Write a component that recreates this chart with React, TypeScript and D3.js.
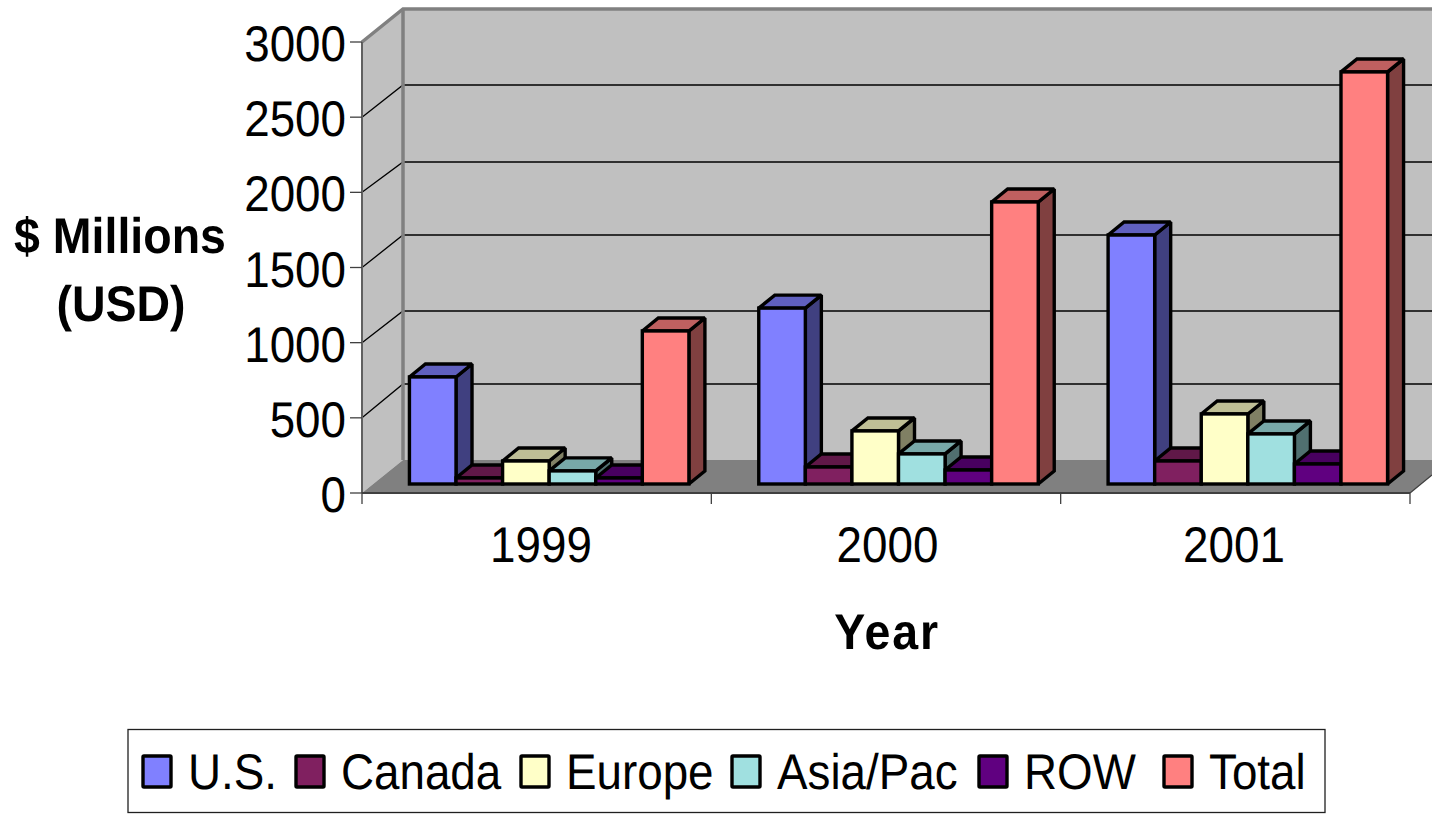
import React from "react";
import * as d3 from "d3";

const years = ["1999", "2000", "2001"];
const seriesNames = ["U.S.", "Canada", "Europe", "Asia/Pac", "ROW", "Total"];
const usValues = [712, 1170, 1656];
const canadaValues = [40, 113, 153];
const europeValues = [153, 353, 466];
const asiaValues = [87, 200, 333];
const rowValues = [40, 93, 133];
const totalValues = [1018, 1876, 2741];
const seriesValues = [usValues, canadaValues, europeValues, asiaValues, rowValues, totalValues];
const seriesColors = ["#8080ff", "#802060", "#ffffc8", "#a0e0e0", "#600080", "#ff8080"];
const yTicks = [0, 500, 1000, 1500, 2000, 2500, 3000];
const backWallY = [460, 384, 311, 235, 162, 85, 9];
const legendSwatchX = [143, 296, 521, 732, 979, 1164];

const W = 1432, H = 814;
const FONT = "'Liberation Sans', Arial, sans-serif";
const x0 = 362, x1 = 1410, yFront = 493, yFrontTop = 42;
const depthX = 41;
const barDepthX = 16, barDepthY = 13;
const barShiftX = 12.5, barShiftY = 9;
const STRETCH_X = 0.915;

const yScale = d3.scaleLinear().domain([0, 3000]).range([0, yFrontTop - yFront]);
const yBack = d3.scaleLinear().domain(yTicks).range(backWallY);
const xBand = d3.scaleBand().domain(years).range([x0, x1]);
const xLabel = d3.scalePoint().domain(years).range([541, 1234]);
const barW = xBand.bandwidth() / 7.5;

const pts = (p: number[][]) => p.map((q) => q.join(",")).join(" ");

function T({ x, y, anchor = "start", bold = false, size = 50, sx = STRETCH_X, spacing = 0, children }: any) {
  return (
    <text
      transform={`translate(${x},${y}) scale(${sx},1)`}
      textAnchor={anchor}
      fontWeight={bold ? "bold" : "normal"}
      fontSize={size}
      letterSpacing={spacing}
      fill="#000"
      style={{ textRendering: "geometricPrecision" }}
    >
      {children}
    </text>
  );
}

export default function App() {
  const darken = (c: string, k: number) => {
    const r = d3.rgb(c);
    return d3.rgb(r.r * k, r.g * k, r.b * k).formatHex();
  };
  const backTop = yBack(3000), backBottom = yBack(0);
  return (
    <svg width={W} height={H} viewBox={`0 0 ${W} ${H}`} style={{ position: "absolute", left: 0, top: 0, background: "#fff" }} fontFamily={FONT}>
      {/* back wall, side wall, floor */}
      <polygon points={pts([[x0 + depthX, backTop], [W + 60, backTop], [W + 60, backBottom], [x0 + depthX, backBottom]])} fill="#c0c0c0" />
      <polygon points={pts([[x0, yFront], [x0 + depthX, backBottom], [x0 + depthX, backTop], [x0, yFrontTop]])} fill="#c0c0c0" />
      <polygon points={pts([[x0, yFront], [x1, yFront], [x1 + depthX, backBottom], [x0 + depthX, backBottom]])} fill="#808080" />
      {/* gridlines */}
      {yTicks.slice(1, -1).map((t) => (
        <polyline key={t} points={pts([[x0, yFront + yScale(t)], [x0 + depthX, yBack(t)], [W, yBack(t)]])} fill="none" stroke="#000" strokeWidth={1.3} />
      ))}
      {/* wall edges */}
      <polyline points={pts([[x0, yFrontTop], [x0 + depthX, backTop], [W, backTop]])} fill="none" stroke="#808080" strokeWidth={3.5} />
      <line x1={x0 + depthX} x2={x0 + depthX} y1={backTop} y2={backBottom} stroke="#808080" strokeWidth={3.5} />
      {/* axes */}
      <line x1={x0} x2={x0} y1={yFrontTop} y2={yFront} stroke="#606060" strokeWidth={2} />
      <line x1={x0} x2={x1} y1={yFront} y2={yFront} stroke="#404040" strokeWidth={2} />
      <line x1={x1} x2={x1 + 22} y1={yFront} y2={yFront - 18} stroke="#404040" strokeWidth={1.3} />
      {yTicks.map((t) => {
        const y = yFront + yScale(t);
        return (
          <g key={t}>
            <line x1={350} x2={x0} y1={y} y2={y} stroke="#404040" strokeWidth={1.3} />
            <T x={346} y={y + 19} anchor="end">{t}</T>
          </g>
        );
      })}
      {[...years.map((y) => xBand(y) as number), x1].map((x) => (
        <line key={x} x1={x} x2={x} y1={yFront} y2={yFront + 11} stroke="#404040" strokeWidth={1.3} />
      ))}
      {years.map((y) => (
        <T key={y} x={xLabel(y)} y={562} anchor="middle">{y}</T>
      ))}
      {/* bars */}
      {years.map((year, yi) =>
        seriesValues.map((vals, si) => {
          const left = (xBand(year) as number) + barW * 0.75 + barShiftX + si * barW;
          const right = left + barW;
          const base = yFront - barShiftY;
          const top = base + yScale(vals[yi]);
          const c = seriesColors[si];
          return (
            <g key={`${year}-${si}`} stroke="#000" strokeWidth={3.4} strokeLinejoin="miter" strokeMiterlimit={1.5}>
              <polygon points={pts([[right, base], [right + barDepthX, base - barDepthY], [right + barDepthX, top - barDepthY], [right, top]])} fill={darken(c, 0.5)} />
              <polygon points={pts([[left, top], [right, top], [right + barDepthX, top - barDepthY], [left + barDepthX, top - barDepthY]])} fill={darken(c, 0.75)} />
              <rect x={left} y={top} width={barW} height={base - top} fill={c} />
            </g>
          );
        })
      )}
      {/* axis titles */}
      <T x={120} y={253} anchor="middle" bold sx={0.93}>$ Millions</T>
      <T x={121} y={321} anchor="middle" bold sx={0.93}>(USD)</T>
      <T x={887} y={649} anchor="middle" bold sx={0.93} spacing={2}>Year</T>
      {/* legend */}
      <rect x={128} y={729.5} width={1197} height={83} fill="#fff" stroke="#202020" strokeWidth={1.3} />
      {seriesNames.map((name, i) => (
        <g key={name}>
          <rect x={legendSwatchX[i]} y={756} width={28} height={31} fill={seriesColors[i]} stroke="#000" strokeWidth={3.4} rx={1} />
          <T x={legendSwatchX[i] + 45} y={789}>{name}</T>
        </g>
      ))}
    </svg>
  );
}
